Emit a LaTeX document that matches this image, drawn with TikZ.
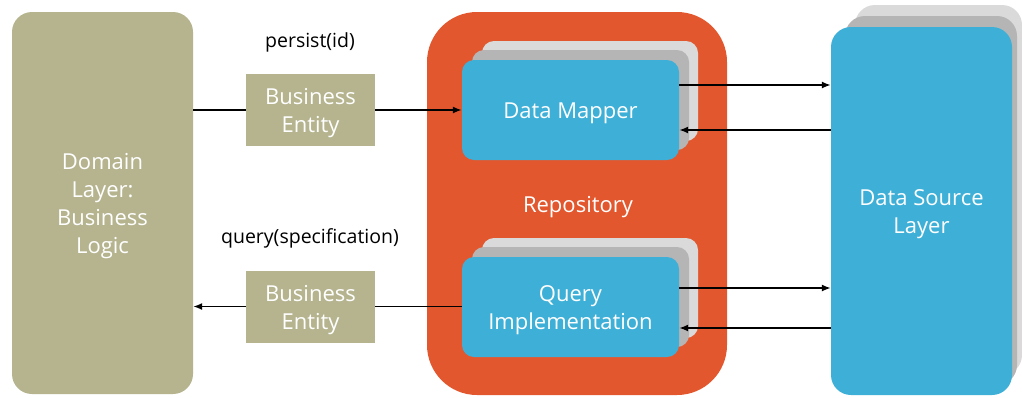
\documentclass[tikz,border=0pt]{standalone}
\usepackage{fontspec}
\setmainfont{Open Sans}
\usetikzlibrary{arrows.meta,calc}
\definecolor{olive}{RGB}{181,180,143}
\definecolor{repo}{RGB}{227,87,46}
\definecolor{sky}{RGB}{62,176,216}
\definecolor{shadeA}{RGB}{218,218,218}
\definecolor{shadeB}{RGB}{181,181,181}
% a tall strut on the first line sets the text a little lower in its box
\newcommand{\fls}{\rule{0pt}{23pt}}
\tikzset{
  bigtext/.style={font=\fontsize{22}{28}\selectfont, text=white, align=center},
  layerbox/.style={bigtext, rounded corners=20pt, inner sep=0pt},
  entitybox/.style={bigtext, fill=olive, minimum width=129pt, minimum height=72pt, inner sep=0pt},
  compbox/.style={bigtext, fill=sky, rounded corners=12pt, minimum width=217pt, minimum height=100pt, inner sep=0pt},
  calltext/.style={font=\fontsize{19.5}{24}\selectfont, text=black},
  link/.style={line width=1.5pt, draw=black},
  tip/.style={-{Latex[length=9pt,width=7pt]}},
}
\begin{document}
\begin{tikzpicture}[x=1pt,y=-1pt]
\useasboundingbox (0,0) rectangle (1022,397);

% Domain layer
\node[layerbox, fill=olive, minimum width=181pt, minimum height=382pt] (dom) at (102.5,203) {\fls Domain\\Layer:\\Business\\Logic};

% Repository container
\node[fill=repo, rounded corners=50pt, minimum width=300pt, minimum height=383pt, inner sep=0pt] (repo) at (577,203.5) {};
\node[bigtext] (repolabel) at (578,204) {\fls Repository};

% Stacked copies behind the components
\foreach \y in {0,197}{
  \fill[shadeA, rounded corners=12pt] (482,41+\y) rectangle (698,141+\y);
  \fill[shadeB, rounded corners=12pt] (472,50+\y) rectangle (689,150+\y);
}
\node[compbox] (dm) at (570.5,110) {\fls Data Mapper};
\node[compbox] (qi) at (570.5,307) {\fls Query\\Implementation};

% Data source layer with its stack
\fill[shadeA, rounded corners=20pt] (855,5) rectangle (1022,375);
\fill[shadeB, rounded corners=20pt] (845,16) rectangle (1017,385);
\node[layerbox, fill=sky, minimum width=181pt, minimum height=368pt] (ds) at (921.5,211) {\fls Data Source\\Layer};

% Business entities and call labels
\node[entitybox] (be1) at (310.5,110) {\fls Business\\Entity};
\node[entitybox] (be2) at (310.5,306.5) {\fls Business\\Entity};
\node[calltext] (persist) at (310,42.5) {persist(id)};
\node[calltext] (query) at (310,238.5) {query(specification)};

% Connectors
\draw[link] (dom.east |- be1.west) -- (be1.west);
\draw[link, tip] (be1.east) -- (dm.west |- be1.east);
\draw[link, tip] (be2.west) -- (dom.east |- be2.west);
\draw[link] (qi.west |- be2.east) -- (be2.east);

\draw[link, tip] (dm.east |- 0,85) -- (ds.west |- 0,85);
\draw[link, tip] (ds.west |- 0,130) -- (dm.east |- 0,130);
\draw[link, tip] (qi.east |- 0,288) -- (ds.west |- 0,288);
\draw[link, tip] (ds.west |- 0,328) -- (qi.east |- 0,328);
\end{tikzpicture}
\end{document}
